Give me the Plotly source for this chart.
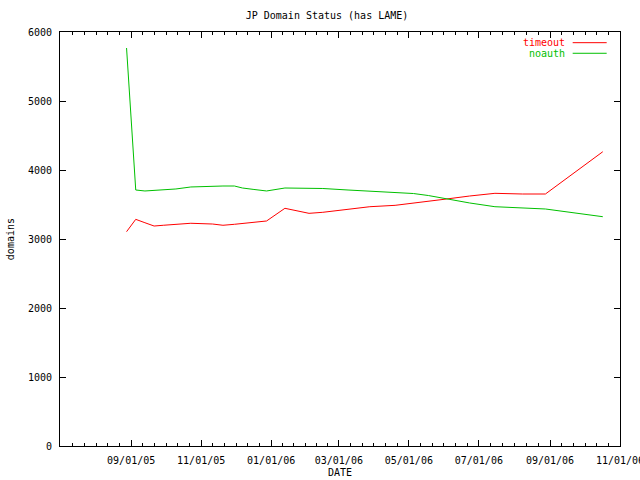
import plotly.graph_objects as go
import pandas as pd

dates = ["2005-08-28", "2005-09-05", "2005-09-13", "2005-09-21", "2005-09-29",
         "2005-10-10", "2005-10-23", "2005-11-11", "2005-11-20", "2005-11-30",
         "2005-12-07", "2005-12-17", "2005-12-28", "2006-01-13", "2006-01-18",
         "2006-02-03", "2006-02-15", "2006-03-09", "2006-03-28", "2006-04-19",
         "2006-05-05", "2006-05-18", "2006-06-03", "2006-06-23", "2006-07-15",
         "2006-08-08", "2006-08-28", "2006-10-17"]

timeout = [3106, 3285, 3236, 3188, 3199,
           3213, 3228, 3217, 3199, 3213,
           3225, 3242, 3261, 3445, 3430,
           3372, 3387, 3435, 3468, 3488,
           3517, 3551, 3580, 3623, 3662,
           3652, 3652, 4265]

noauth = [5768, 3710, 3696, 3703, 3710,
          3725, 3754, 3768, 3768, 3768,
          3739, 3718, 3696, 3739, 3739,
          3735, 3732, 3710, 3696, 3677,
          3659, 3630, 3580, 3522, 3468,
          3449, 3435, 3323]

tick_dates = ["2005-09-01", "2005-11-01", "2006-01-01", "2006-03-01",
              "2006-05-01", "2006-07-01", "2006-09-01", "2006-11-01"]
tick_labels = ["09/01/05", "11/01/05", "01/01/06", "03/01/06",
               "05/01/06", "07/01/06", "09/01/06", "11/01/06"]

x_range = ["2005-07-01", "2006-11-01"]

# minor ticks: 6 subdivisions between majors
td = pd.to_datetime(tick_dates)
minor = []
for a, b in zip(td[:-1], td[1:]):
    step = (b - a) / 6
    for i in range(1, 6):
        minor.append(a + step * i)
step0 = (td[1] - td[0]) / 6
for i in range(1, 6):
    minor.append(td[0] - step0 * i)
minor = [m.strftime("%Y-%m-%d %H:%M:%S") for m in minor]

FONT = "DejaVu Sans Mono"
RED = "#ff0000"
GREEN = "#00c000"

W, H = 640, 480

fig = go.Figure()
fig.add_trace(go.Scatter(x=dates, y=timeout, mode="lines", name="timeout",
                         line=dict(color=RED, width=1)))
fig.add_trace(go.Scatter(x=dates, y=noauth, mode="lines", name="noauth",
                         line=dict(color=GREEN, width=1)))

axis_common = dict(showline=True, linecolor="black", linewidth=1, mirror="ticks",
                   ticks="inside", ticklen=6, tickcolor="black", tickwidth=1,
                   showgrid=False, zeroline=False, automargin=False,
                   tickfont=dict(family=FONT, size=10, color="black"))

fig.update_xaxes(type="date", range=x_range, tickmode="array",
                 tickvals=tick_dates, ticktext=tick_labels,
                 ticklabelstandoff=5, ticklabeloverflow="allow",
                 minor=dict(ticks="inside", ticklen=3, tickcolor="black",
                            tickmode="array", tickvals=minor),
                 **axis_common)
fig.update_yaxes(range=[0, 6000], tickmode="linear", tick0=0, dtick=1000,
                 ticklabelstandoff=5,
                 **axis_common)

annotations = [
    dict(text="DATE", xref="paper", yref="paper", x=0.5, y=-0.063,
         xanchor="center", yanchor="middle", showarrow=False,
         font=dict(family=FONT, size=10, color="black")),
    dict(text="domains", xref="paper", yref="paper", x=-0.089, y=0.5,
         xanchor="center", yanchor="middle", textangle=-90, showarrow=False,
         font=dict(family=FONT, size=10, color="black")),
    dict(text="timeout", xref="paper", yref="paper", x=0.9054, y=0.9742,
         xanchor="right", yanchor="middle", showarrow=False,
         font=dict(family=FONT, size=10, color=RED)),
    dict(text="noauth", xref="paper", yref="paper", x=0.9054, y=0.9486,
         xanchor="right", yanchor="middle", showarrow=False,
         font=dict(family=FONT, size=10, color=GREEN)),
]
shapes = [
    dict(type="line", xref="paper", yref="paper", x0=0.9155, x1=0.9762,
         y0=0.9742, y1=0.9742, line=dict(color=RED, width=1)),
    dict(type="line", xref="paper", yref="paper", x0=0.9155, x1=0.9762,
         y0=0.9486, y1=0.9486, line=dict(color=GREEN, width=1)),
]

fig.update_layout(
    width=W, height=H,
    margin=dict(l=60, r=20, t=32, b=34),
    paper_bgcolor="white", plot_bgcolor="white",
    showlegend=False,
    title=dict(text="JP Domain Status (has LAME)", x=327 / W,
               xanchor="center",
               xref="container", yref="container", y=1 - 15 / H,
               yanchor="middle",
               font=dict(family=FONT, size=10, color="black")),
    annotations=annotations, shapes=shapes,
)

fig.write_html("out.html",
               config={"displayModeBar": False},
               post_script="document.body.style.margin='0px';"
                           "document.body.style.overflow='hidden';")
